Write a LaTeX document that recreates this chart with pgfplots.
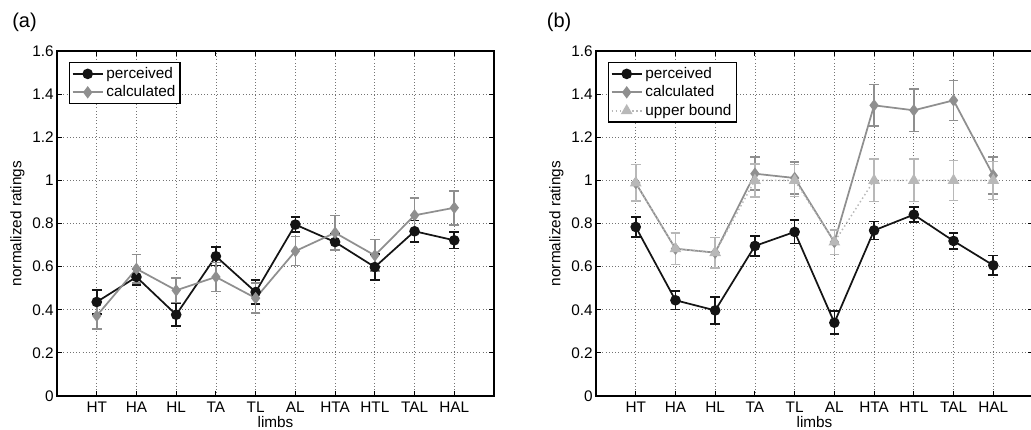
\documentclass[border=0pt]{standalone}
\usepackage{pgfplots}
\pgfplotsset{compat=1.18}
\usepackage{fontspec}
\setmainfont{Liberation Sans}

\definecolor{perc}{gray}{0.08}
\definecolor{calc}{gray}{0.56}
\definecolor{ubnd}{gray}{0.72}

\pgfplotsset{
  limbaxis/.style={
    scale only axis, width=327.75pt, height=258.75pt,
    xmin=0, xmax=11, ymin=0, ymax=1.6,
    xtick={1,2,3,4,5,6,7,8,9,10},
    xticklabels={HT,HA,HL,TA,TL,AL,HTA,HTL,TAL,HAL},
    ytick={0,0.2,0.4,0.6,0.8,1,1.2,1.4,1.6},
    yticklabels={0,0.2,0.4,0.6,0.8,1,1.2,1.4,1.6},
    tick align=inside, tick pos=both, major tick length=4pt,
    every tick/.style={black, line width=0.8pt},
    axis line style={line width=1.1pt, black},
    grid=major, major grid style={dotted, line width=0.6pt, black!55},
    font=\fontsize{11.5}{13}\selectfont,
    xlabel={limbs}, ylabel={normalized ratings},
    xlabel style={yshift=4pt},
    ylabel style={yshift=-1pt},
    xticklabel style={yshift=-1pt},
    yticklabel style={xshift=1pt},
    legend cell align=left,
    legend style={at={(0,1)}, anchor=north west, xshift=9pt, yshift=-8.25pt,
      draw=black, line width=1pt, fill=white, inner sep=1.5pt, row sep=0pt,
      font=\fontsize{11.5}{13}\selectfont},
    legend image code/.code={
      \draw[mark repeat=2,mark phase=2] plot coordinates {(0cm,0cm) (0.4cm,0cm) (0.8cm,0cm)};},
  },
  percstyle/.style={color=perc, line width=1.3pt, mark=*, mark size=3.3pt,
    mark options={solid, fill=perc},
    error bars/.cd, y dir=both, y explicit,
    error bar style={line width=1.2pt, solid},
    error mark options={rotate=90, line width=1.2pt, mark size=3.6pt}},
  calcstyle/.style={color=calc, line width=1.3pt, mark=diamond*, mark size=3.6pt,
    mark options={solid, fill=calc},
    error bars/.cd, y dir=both, y explicit,
    error bar style={line width=1.2pt, solid},
    error mark options={rotate=90, line width=1.2pt, mark size=3.6pt}},
  ubndstyle/.style={color=ubnd, line width=1.1pt, dotted, mark=triangle*, mark size=4pt,
    mark options={solid, fill=ubnd},
    error bars/.cd, y dir=both, y explicit,
    error bar style={line width=1.2pt, solid},
    error mark options={rotate=90, line width=1.2pt, mark size=3.6pt}},
}

\begin{document}
\begin{tikzpicture}
\useasboundingbox (0,0) rectangle (773.25pt,321.75pt);

\node[anchor=west, inner sep=0pt, font=\fontsize{15}{17}\selectfont] at (9pt,305pt) {(a)};
\node[anchor=west, inner sep=0pt, font=\fontsize{15}{17}\selectfont] at (410pt,305pt) {(b)};

% panel (a)
\begin{axis}[limbaxis, at={(42.75pt,24.75pt)}, anchor=south west]
\addplot[percstyle] coordinates {
  (1,0.436) +- (0,0.055) (2,0.552) +- (0,0.036) (3,0.377) +- (0,0.052)
  (4,0.648) +- (0,0.043) (5,0.482) +- (0,0.055) (6,0.795) +- (0,0.035)
  (7,0.714) +- (0,0.036) (8,0.598) +- (0,0.060) (9,0.764) +- (0,0.050)
  (10,0.722) +- (0,0.038)
};
\addlegendentry{perceived}
\addplot[calcstyle] coordinates {
  (1,0.372) +- (0,0.062) (2,0.590) +- (0,0.067) (3,0.490) +- (0,0.057)
  (4,0.552) +- (0,0.067) (5,0.454) +- (0,0.070) (6,0.672) +- (0,0.067)
  (7,0.757) +- (0,0.080) (8,0.652) +- (0,0.073) (9,0.838) +- (0,0.080)
  (10,0.873) +- (0,0.079)
};
\addlegendentry{calculated}
\end{axis}

% panel (b)
\begin{axis}[limbaxis, at={(447pt,24.75pt)}, anchor=south west]
\addplot[percstyle] coordinates {
  (1,0.784) +- (0,0.046) (2,0.444) +- (0,0.042) (3,0.397) +- (0,0.062)
  (4,0.696) +- (0,0.046) (5,0.761) +- (0,0.054) (6,0.340) +- (0,0.053)
  (7,0.768) +- (0,0.042) (8,0.841) +- (0,0.035) (9,0.719) +- (0,0.037)
  (10,0.606) +- (0,0.046)
};
\addlegendentry{perceived}
\addplot[calcstyle] coordinates {
  (1,0.988) +- (0,0.085) (2,0.683) +- (0,0.073) (3,0.665) +- (0,0.070)
  (4,1.031) +- (0,0.077) (5,1.011) +- (0,0.074) (6,0.714) +- (0,0.057)
  (7,1.348) +- (0,0.097) (8,1.325) +- (0,0.099) (9,1.371) +- (0,0.093)
  (10,1.023) +- (0,0.085)
};
\addlegendentry{calculated}
\addplot[ubndstyle] coordinates {
  (1,0.988) +- (0,0.085) (2,0.683) +- (0,0.073) (3,0.665) +- (0,0.070)
  (4,1.000) +- (0,0.077) (5,1.000) +- (0,0.074) (6,0.714) +- (0,0.057)
  (7,1.000) +- (0,0.098) (8,1.000) +- (0,0.098) (9,1.000) +- (0,0.093)
  (10,1.000) +- (0,0.088)
};
\addlegendentry{upper bound}
\end{axis}
\end{tikzpicture}
\end{document}
